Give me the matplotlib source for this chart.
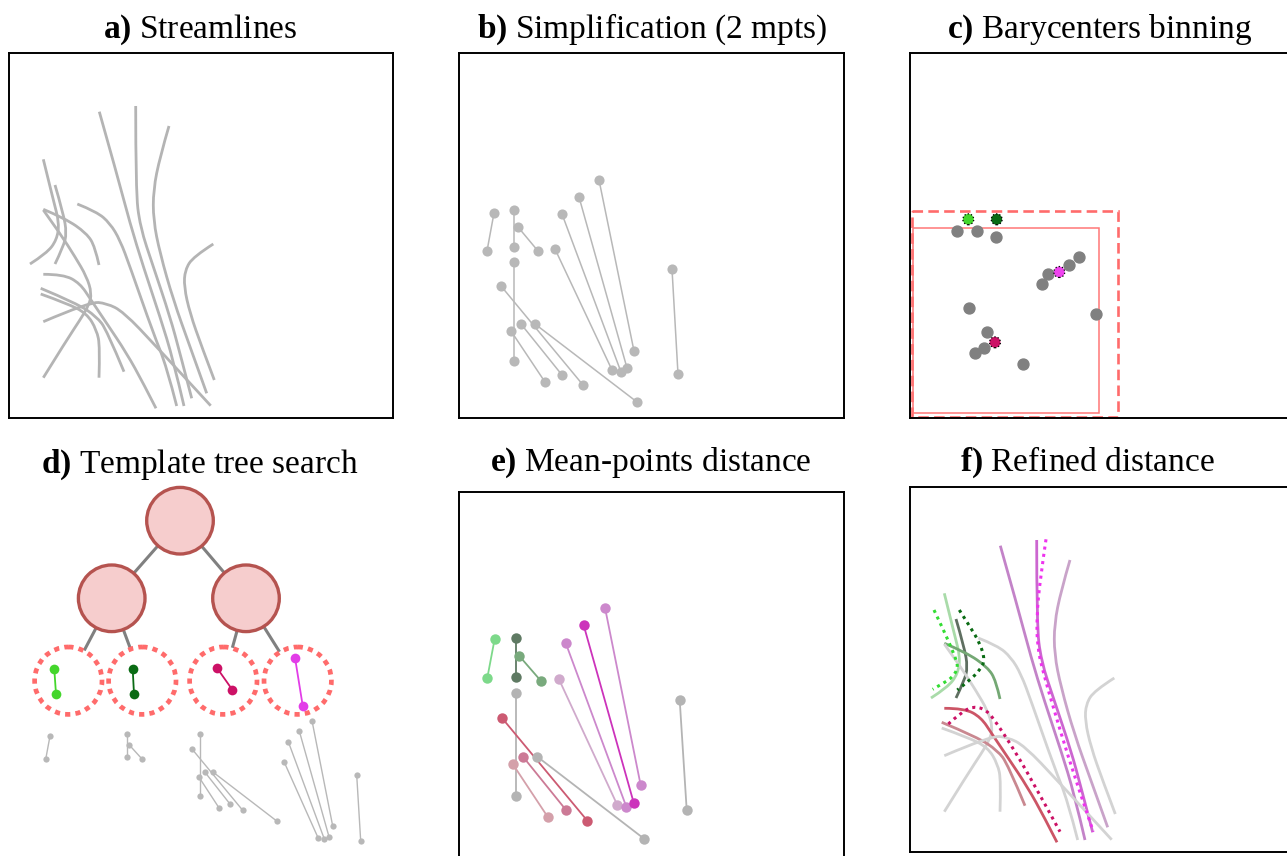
import numpy as np
import matplotlib
matplotlib.use("Agg")
import matplotlib.pyplot as plt
from matplotlib.patches import Circle, Rectangle, PathPatch
from matplotlib.path import Path

plt.rcParams["font.family"] = ["Liberation Serif", "DejaVu Serif"]
plt.rcParams["mathtext.fontset"] = "custom"
plt.rcParams["mathtext.rm"] = "Liberation Serif"
plt.rcParams["mathtext.bf"] = "Liberation Serif:bold"

W, H = 1287, 856

# ---- data (box-relative pixel coordinates, y down) ----
# a) / f) streamlines
streamlines = [
    [(34.3, 106.3), (44.3, 147), (50.3, 170.3), (47.7, 187), (37.7, 200.3), (21, 211)],
    [(46, 132), (54.3, 160.3), (57.7, 180.3), (54.3, 193.7), (46, 211)],
    [(34.3, 156.3), (56, 165.3), (77.7, 180.3), (86, 193.7), (90, 212)],
    [(34.3, 157), (51, 180.3), (66, 203.7), (77.7, 223.7), (82.7, 240.3), (80, 252),
     (71, 267), (57.7, 287), (34.3, 324.7)],
    [(68.3, 151), (87.7, 158.7), (101, 170.3), (111, 187), (121, 213.7), (144.3, 280.3),
     (157.7, 313.7), (167.7, 353)],
    [(90.3, 58.7), (107.7, 120.3), (121, 170.3), (134.3, 213.7), (151, 263.7),
     (164.3, 307), (175, 353)],
    [(126.7, 53), (126.7, 137), (131, 173.7), (144.3, 213.7), (161, 263.7),
     (171, 300.3), (182.7, 345.3)],
    [(160, 73), (151, 103.7), (144.3, 137), (144.3, 167), (151, 200.3), (164.3, 247),
     (181, 293.7), (197.7, 340.3)],
    [(204.3, 191), (184.3, 203.7), (176, 217), (175, 233.7), (181, 260.3),
     (192.7, 293.7), (205.3, 327)],
    [(34.3, 221.3), (54.3, 221.3), (71, 230.3), (82, 247), (97.7, 270.3),
     (117.7, 300.3), (134.3, 330.3), (147, 355.3)],
    [(31.7, 235.3), (67.7, 250.3), (87.7, 263.7), (97.7, 277), (115, 318.7)],
    [(31.7, 241), (57.7, 250.3), (77.7, 260.3), (87.7, 277), (91, 293.7), (90, 324.7)],
    [(34.3, 268.7), (81, 248.7), (97.7, 250.3), (114.3, 258.7), (147.7, 293.7),
     (201.7, 352.7)],
]
f_colors = ["#a9dba9", "#5f6f61", "#74a874", "#d3d3d3", "#d3d3d3", "#c383c8",
            "#cc66d0", "#c9a3c9", "#d3d3d3", "#cc5566", "#c98890", "#d3d3d3", "#d3d3d3"]

# f) refined templates (dotted)
templates = {
    "#33dd33": [(24, 123), (36.7, 149.7), (45, 169.7), (48.3, 179.7), (43.3, 189.7),
                (33.3, 196.3), (22.7, 202.3)],
    "#0a6b14": [(49.3, 123), (60, 139.7), (70, 156.3), (75, 173), (70, 183), (60, 193),
                (47.3, 203)],
    "#cc1166": [(38.3, 237), (50, 226.3), (63.3, 219), (76.7, 223), (86.7, 236.3),
                (100, 256.3), (120, 289.7), (150, 344.7)],
    "#ee33ee": [(136, 52.3), (130, 93), (126.7, 129.7), (127.3, 159.7), (133.3, 186.3),
                (150, 243), (166.7, 296.3), (183.3, 344.7)],
}

# b) simplified segments (2 mean points)
simplified = [
    [(35, 160), (28, 198)], [(55, 157), (55, 194)], [(59, 174), (79, 198)],
    [(55, 209), (55, 308)], [(42, 233), (124, 332)], [(52, 278), (86, 329)],
    [(62, 271), (103, 322)], [(76, 271), (178, 349)], [(96, 196), (153, 317)],
    [(103, 161), (162, 319)], [(120, 144), (168, 315)], [(140, 127), (175, 298)],
    [(213, 216), (219, 321)],
]

# e) mean-points distance segments with colours
e_segments = [
    [(35.7, 146.7), (28.3, 186)], [(57, 146), (57, 185.3)], [(60.3, 164), (82, 189)],
    [(57, 200.7), (57, 303.7)], [(43, 226), (128.3, 328.7)], [(64, 264.7), (107, 318)],
    [(53.7, 272), (89, 325.3)], [(78.3, 264.7), (185, 346.7)],
    [(99.7, 186.7), (158.3, 313)], [(106.7, 151), (167.3, 314.7)],
    [(124.7, 133.3), (174.7, 310.7)], [(146, 115.7), (181.7, 293.3)],
    [(220.7, 208), (227.7, 318)],
]
e_colors = ["#7dd98a", "#5f7a63", "#79aa7d", "#b4b4b4", "#cc5a72", "#cc7a96",
            "#d4a0aa", "#b4b4b4", "#d0aacc", "#cc88cc", "#cc33bb", "#cc88cc", "#b4b4b4"]

# c) barycenters
bary_x = [46.7, 67, 86, 131.7, 137.7, 158.7, 168.7, 59, 186.3, 76.7, 74.3, 65, 113.3]
bary_y = [177.7, 177.7, 184.3, 231.3, 221.3, 212, 204, 255, 261, 278.7, 294.7, 300, 311]
tmpl_bary_x = [58.3, 86.7, 149.3, 85]
tmpl_bary_y = [166.3, 166.3, 219, 289.3]
tmpl_colors = ["#44d62c", "#0a6b14", "#ee44ee", "#cc1166"]
bin_inner = (3.3, 174.7, 189.3, 360.3)
bin_outer = (1.7, 157.7, 208.3, 363.7)

# d) tree (figure pixel coordinates)
tree_nodes = [(180, 520.7), (111.7, 598.3), (246, 598.3)]
tree_leaves = [(68.3, 680.7), (142.3, 680.7), (223.3, 680.7), (297.7, 680.7)]
tree_edges = [(0, "n", 1), (0, "n", 2), (1, "l", 0), (1, "l", 1), (2, "l", 2), (2, "l", 3)]
leaf_segments = [
    [(54.3, 669.3), (56, 694)], [(132.7, 669.3), (134, 694)],
    [(217, 668), (232.3, 689.7)], [(295, 657.7), (302.7, 705.7)],
]
leaf_colors = ["#44d62c", "#0a6b14", "#cc1166", "#e23de8"]
d_gray = [
    [(50, 736), (45.7, 759.3)], [(127.3, 734), (127.3, 757.3)],
    [(129.3, 745), (142.3, 759.3)], [(200.3, 734), (200.3, 795.7)],
    [(192, 749), (242.7, 810.3)], [(198.7, 776.7), (219.3, 808.3)],
    [(205, 772.3), (230, 804)], [(213.3, 772.3), (276.7, 821)],
    [(284.3, 762.3), (318.3, 838.3)], [(288.3, 741.7), (324.3, 839)],
    [(299.3, 731), (329, 836.7)], [(312, 720.7), (332.7, 826)],
    [(356.7, 775), (360.7, 841)],
]

titles = [
    ("a)", "Streamlines", 200, 38), ("b)", "Simplification (2 mpts)", 652, 38),
    ("c)", "Barycenters binning", 1100, 38), ("d)", "Template tree search", 200, 473),
    ("e)", "Mean-points distance", 651, 471), ("f)", "Refined distance", 1087, 471),
]

fig = plt.figure(figsize=(W / 100, H / 100), dpi=100)


def px_axes(x0, y0, x1, y1, frame=True):
    ax = fig.add_axes([x0 / W, 1 - y1 / H, (x1 - x0) / W, (y1 - y0) / H])
    ax.set_xlim(0, x1 - x0)
    ax.set_ylim(y1 - y0, 0)
    ax.set_xticks([])
    ax.set_yticks([])
    for s in ax.spines.values():
        s.set_visible(frame)
        s.set_linewidth(1.4)
        s.set_color("black")
    return ax


def xy(pts):
    a = np.array(pts)
    return a[:, 0], a[:, 1]


def smooth_path(pts):
    # quadratic bezier through midpoints, control points are the read points
    p = np.array(pts, dtype=float)
    verts, codes = [p[0]], [Path.MOVETO]
    for i in range(1, len(p) - 1):
        end = p[i + 1] if i == len(p) - 2 else (p[i] + p[i + 1]) / 2
        verts += [p[i], end]
        codes += [Path.CURVE3, Path.CURVE3]
    if len(p) == 2:
        verts.append(p[1])
        codes.append(Path.LINETO)
    return Path(verts, codes)


def draw_curve(ax, pts, **kw):
    ax.add_patch(PathPatch(smooth_path(pts), fill=False, capstyle="butt",
                           joinstyle="round", **kw))


# a) streamlines
ax = px_axes(9, 53, 393, 418)
for line in streamlines:
    draw_curve(ax, line, ec="#b4b4b4", lw=2.0)

# b) simplification
ax = px_axes(459, 53, 844, 418)
for seg in simplified:
    ax.plot(*xy(seg), color="#b8b8b8", lw=1.1, marker="o", ms=7.3, mec="none")

# c) barycenters binning
ax = px_axes(910, 53, 1294, 418)
x0, y0, x1, y1 = bin_outer
ax.add_patch(Rectangle((x0, y0), x1 - x0, y1 - y0, fill=False, ec="#ff6b6b",
                       lw=1.9, ls=(0, (4, 2))))
x0, y0, x1, y1 = bin_inner
ax.add_patch(Rectangle((x0, y0), x1 - x0, y1 - y0, fill=False, ec="#ff7777", lw=1.1))
ax.scatter(bary_x, bary_y, s=62, color="#808080", zorder=3)
ax.scatter(tmpl_bary_x, tmpl_bary_y, s=62, c=tmpl_colors, edgecolors="black",
           linewidths=0.9, linestyles=":", zorder=4)

# d) template tree search
ax = px_axes(0, 480, 400, 856, frame=False)
off = 480
r_node, r_leaf = 33.3, 33.7
for i, kind, j in tree_edges:
    p = np.array(tree_nodes[i])
    q = np.array(tree_nodes[j] if kind == "n" else tree_leaves[j])
    u = (q - p) / np.linalg.norm(q - p)
    rq = r_node if kind == "n" else r_leaf + 2
    a, b = p + u * r_node, q - u * rq
    ax.plot([a[0], b[0]], [a[1] - off, b[1] - off], color="#808080", lw=2.2, zorder=1)
for cx, cy in tree_nodes:
    ax.add_patch(Circle((cx, cy - off), r_node, fc="#f6cdcd", ec="#b5534f", lw=2.4, zorder=2))
for cx, cy in tree_leaves:
    ax.add_patch(Circle((cx, cy - off), r_leaf, fill=False, ec="#ff6b6b", lw=3.4,
                        ls=(0, (1.1, 1.1)), zorder=2))
for seg, col in zip(leaf_segments, leaf_colors):
    sx, sy = xy(seg)
    ax.plot(sx, sy - off, color=col, lw=1.3, marker="o", ms=7, mec="none", zorder=3)
for seg in d_gray:
    sx, sy = xy(seg)
    ax.plot(sx, sy - off, color="#b8b8b8", lw=1.0, marker="o", ms=4.5, mec="none")

# e) mean-points distance
ax = px_axes(459, 492, 844, 857)
for seg, col in zip(e_segments, e_colors):
    ax.plot(*xy(seg), color=col, lw=1.3, marker="o", ms=7.5, mec="none")

# f) refined distance
ax = px_axes(910, 487, 1294, 852)
for line, col in zip(streamlines, f_colors):
    draw_curve(ax, line, ec=col, lw=2.0)
for col, line in templates.items():
    draw_curve(ax, line, ec=col, lw=2.2, ls=(0, (1, 1.4)))

for bold, rest, tx, ty in titles:
    fig.text(tx / W, 1 - ty / H, r"$\mathbf{" + bold + "}$ " + rest, ha="center",
             va="baseline", fontsize=24)

fig.savefig("out.png", dpi=100)
